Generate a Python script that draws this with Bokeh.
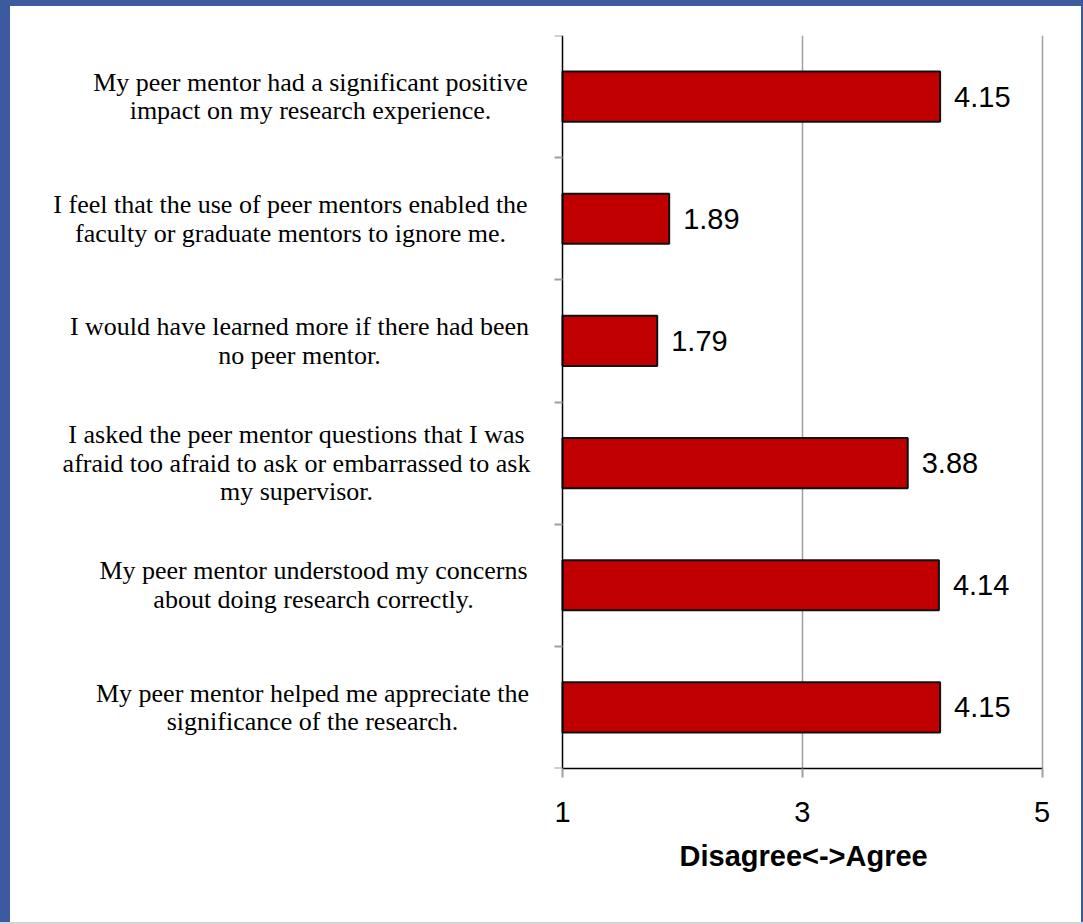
from bokeh.plotting import figure
from bokeh.models import Range1d, FixedTicker, LinearAxis, ColumnDataSource, Title
from bokeh.layouts import column
from bokeh.core.properties import value
from bokeh.embed import file_html
from bokeh.resources import INLINE

# ---- data ----
categories = [
    "My peer mentor had a significant positive\nimpact on my research experience.",
    "I feel that the use of peer mentors enabled the\nfaculty or graduate mentors to ignore me.",
    "I would have learned more if there had been\nno peer mentor.",
    "I asked the peer mentor questions that I was\nafraid too afraid to ask or embarrassed to ask\nmy supervisor.",
    "My peer mentor understood my concerns\nabout doing research correctly.",
    "My peer mentor helped me appreciate the\nsignificance of the research.",
]
scores = [4.15, 1.89, 1.79, 3.88, 4.14, 4.15]
x_ticks = [1, 3, 5]
axis_title = "Disagree<->Agree"

# ---- layout constants (canvas pixels) ----
W, H = 1071, 916
MB_LEFT, MB_RIGHT, MB_TOP, MB_BOTTOM = 20, 10, 29, 154
PX_AT_1 = 552.0          # canvas x of value 1
PX_PER_UNIT = 119.875
# horizontal centre (canvas px) of each wrapped category label block
label_center_px = [300, 280, 289, 286, 303, 302]
TITLE_CENTER_PX = 793
TITLE_WIDTH_PX = 248

frame_w = W - MB_LEFT - MB_RIGHT
x_start = 1 - (PX_AT_1 - MB_LEFT) / PX_PER_UNIT
x_end = x_start + frame_w / PX_PER_UNIT

n = len(categories)
ys = [i + 0.5 for i in range(n)]
label_x = [1 + (c - PX_AT_1) / PX_PER_UNIT for c in label_center_px]

src = ColumnDataSource(dict(
    y=ys, score=scores, label=categories, lx=label_x,
    score_txt=["%.2f" % s for s in scores],
))

p = figure(width=W, height=H, x_range=Range1d(x_start, x_end), y_range=Range1d(n, 0),
           output_backend="svg", toolbar_location=None, y_axis_location=None,
           min_border_left=MB_LEFT, min_border_right=MB_RIGHT,
           min_border_top=MB_TOP, min_border_bottom=MB_BOTTOM,
           background_fill_color="white", border_fill_color="white",
           outline_line_color=None, styles={"background-color": "white"})

p.hbar(y="y", left=1, right="score", height=0.41, fill_color="#C00000",
       line_color="#111111", line_width=2, source=src)

p.text(x="lx", y="y", text="label", source=src,
       text_font=value("Liberation Serif"), text_font_size="26px",
       text_align="center", text_baseline="middle", text_line_height=0.99,
       text_color="#000000")

p.text(x="score", y="y", text="score_txt", source=src, x_offset=14,
       text_font=value("Liberation Sans"), text_font_size="29px",
       text_align="left", text_baseline="middle", text_color="#000000")

# grid
p.ygrid.visible = False
p.xgrid.ticker = FixedTicker(ticks=[t for t in x_ticks if t != 1])
p.xgrid.grid_line_color = "#a0a0a0"
p.xgrid.grid_line_width = 1.5

# bottom axis
xa = p.xaxis[0]
xa.ticker = FixedTicker(ticks=x_ticks)
xa.bounds = (1, 5)
xa.axis_line_color = "#000000"
xa.axis_line_width = 1.5
xa.major_tick_line_color = "#a0a0a0"
xa.major_tick_line_width = 2
xa.major_tick_out = 9
xa.major_tick_in = 0
xa.minor_tick_line_color = None
xa.major_label_text_font = "Liberation Sans"
xa.major_label_text_font_size = "29px"
xa.major_label_text_color = "#000000"
xa.major_label_standoff = 24

# left axis at x = 1 with ticks at category boundaries
ya = LinearAxis(fixed_location=1, ticker=FixedTicker(ticks=list(range(n + 1))),
                major_label_overrides={i: "" for i in range(n + 1)},
                major_label_standoff=0,
                axis_line_color="#000000", axis_line_width=1.5,
                major_tick_line_color="#a0a0a0", major_tick_line_width=2,
                major_tick_out=8, major_tick_in=0, minor_tick_line_color=None)
p.add_layout(ya, "left")

# axis title, centred under the 1..5 span
p.add_layout(Title(text=axis_title, align="left",
                   offset=TITLE_CENTER_PX - TITLE_WIDTH_PX / 2 - MB_LEFT,
                   text_font="Liberation Sans", text_font_size="29px",
                   text_font_style="bold", text_color="#000000", standoff=26),
             "below")

page = column(p, styles={"background-color": "#3d5a9e",
                         "padding": "6px 2px 0px 10px",
                         "border-bottom": "2px solid #d4d4d4"})

open("out.html", "w").write(file_html(page, INLINE))
